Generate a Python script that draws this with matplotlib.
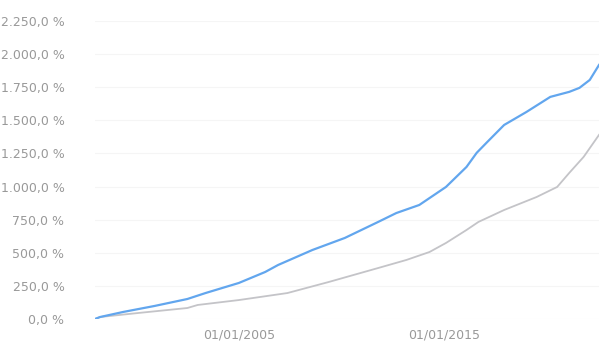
import pandas as pd
import matplotlib
matplotlib.use('Agg')
import matplotlib.pyplot as plt
import matplotlib.dates as mdates
from matplotlib.ticker import FuncFormatter

# values (cumulative return, %)
blue_dates = ['1998-01-01', '1998-04-01', '1999-05-15', '2000-11-20', '2002-07-01',
              '2003-05-20', '2005-01-01', '2006-04-15', '2006-12-01', '2008-08-01',
              '2010-03-01', '2011-10-15', '2012-09-01', '2013-10-15', '2015-02-01',
              '2016-02-01', '2016-08-01', '2017-02-01', '2017-12-01', '2019-01-01',
              '2020-03-01', '2021-02-01', '2021-08-01', '2022-02-01', '2022-07-15']
blue_vals = [0, 15, 53, 98, 151, 196, 272, 355, 408, 521, 612, 733, 800, 861, 997,
             1148, 1255, 1335, 1465, 1563, 1677, 1715, 1745, 1805, 1918]

gray_dates = ['1998-01-01', '1998-04-01', '2000-02-01', '2002-07-01', '2003-01-01',
              '2005-01-01', '2007-05-15', '2009-05-15', '2011-10-15', '2013-03-01',
              '2014-04-15', '2015-02-01', '2016-02-01', '2016-09-01', '2017-12-01',
              '2019-07-01', '2020-07-01', '2021-02-01', '2021-10-15', '2022-07-15']
gray_vals = [0, 15, 45, 83, 106, 143, 196, 279, 385, 446, 506, 574, 672, 733, 823,
             921, 997, 1103, 1224, 1390]

y_ticks = [0, 250, 500, 750, 1000, 1250, 1500, 1750, 2000, 2250]
x_ticks = ['2005-01-01', '2015-01-01']


def pct(v, pos):
    s = '{:,.1f}'.format(v).replace(',', 'X').replace('.', ',').replace('X', '.')
    return s + ' %'


fig = plt.figure(figsize=(5.99, 3.41), dpi=100)
ax = fig.add_axes([95 / 599, 22 / 341, 504 / 599, 298 / 341])

ax.plot(pd.to_datetime(gray_dates), gray_vals, color='#c4c4c8', lw=1.3)
ax.plot(pd.to_datetime(blue_dates), blue_vals, color='#62a6ee', lw=1.6)

ax.set_ylim(0, 2250)
ax.set_xlim(pd.Timestamp('1998-01-01'), pd.Timestamp('2022-07-15'))
ax.set_yticks(y_ticks)
ax.yaxis.set_major_formatter(FuncFormatter(pct))
ax.set_xticks(pd.to_datetime(x_ticks))
ax.xaxis.set_major_formatter(mdates.DateFormatter('%d/%m/%Y'))

ax.grid(axis='y', color='#f5f5f5', lw=0.8)
ax.set_axisbelow(True)
for sp in ax.spines.values():
    sp.set_visible(False)
ax.tick_params(axis='y', length=0, pad=22, labelsize=9, labelcolor='#999999')
ax.tick_params(axis='x', length=0, pad=7, labelsize=9, labelcolor='#999999')

fig.savefig('out.png', dpi=100)
